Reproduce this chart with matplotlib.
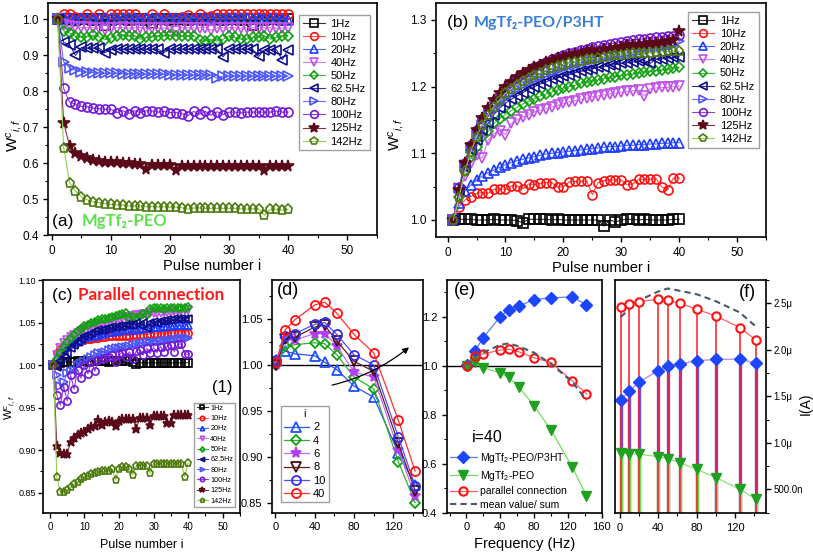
import matplotlib
matplotlib.use("Agg")
import matplotlib.pyplot as plt
from matplotlib.ticker import MultipleLocator, FuncFormatter

plt.rcParams['font.family'] = ['Liberation Sans', 'DejaVu Sans']
plt.rcParams['mathtext.fontset'] = 'custom'
plt.rcParams['mathtext.rm'] = 'Liberation Sans'
plt.rcParams['mathtext.it'] = 'Liberation Sans:italic'

# ---------------- data ----------------
pulses = list(range(1, 41))
freq_labels = ['1Hz', '10Hz', '20Hz', '40Hz', '50Hz', '62.5Hz', '80Hz', '100Hz', '125Hz', '142Hz']
freqs = [1, 10, 20, 40, 50, 62.5, 80, 100, 125, 142]

# (a) MgTf2-PEO
a_1 = [1.000, 1.000, 1.000, 0.999, 1.000, 1.000, 0.999, 1.000, 0.985, 0.999, 1.000, 1.000, 0.999, 1.000, 1.000, 0.999, 0.990, 1.000, 1.000, 0.999,
       1.000, 1.000, 0.999, 1.000, 1.000, 0.999, 1.000, 1.000, 0.999, 1.000, 1.000, 0.999, 1.000, 0.985, 1.000, 0.999, 1.000, 1.000, 0.999, 1.000]
a_10 = [1.000, 1.015, 1.015, 1.008, 1.005, 1.015, 1.005, 1.015, 1.003, 1.015, 1.015, 1.015, 1.015, 1.015, 1.005, 1.003, 1.015, 1.003, 1.015, 1.003,
        1.005, 1.008, 1.013, 1.005, 1.015, 1.008, 1.010, 1.015, 1.015, 1.015, 1.015, 1.015, 1.015, 1.015, 1.015, 1.015, 1.015, 1.015, 1.015, 1.015]
a_20 = [1.000, 1.003, 1.003, 1.002, 1.003, 1.003, 1.002, 1.003, 1.003, 1.003, 1.002, 1.003, 1.003, 1.003, 1.002, 1.003, 1.003, 1.003, 1.002, 1.003,
        1.003, 1.003, 1.003, 1.002, 1.003, 1.003, 1.003, 1.003, 1.002, 1.003, 1.003, 1.003, 1.003, 1.002, 1.003, 1.000, 1.003, 1.003, 1.002, 0.998]
a_40 = [1.000, 0.985, 0.982, 0.980, 0.978, 0.978, 0.977, 0.977, 0.972, 0.977, 0.977, 0.978, 0.976, 0.977, 0.977, 0.977, 0.975, 0.977, 0.976, 0.977,
        0.968, 0.977, 0.977, 0.976, 0.977, 0.977, 0.970, 0.977, 0.977, 0.977, 0.977, 0.976, 0.977, 0.977, 0.977, 0.977, 0.977, 0.976, 0.977, 0.977]
a_50 = [1.000, 0.968, 0.962, 0.953, 0.950, 0.952, 0.957, 0.952, 0.944, 0.948, 0.955, 0.958, 0.953, 0.955, 0.945, 0.950, 0.952, 0.955, 0.955, 0.957,
        0.955, 0.955, 0.953, 0.955, 0.942, 0.940, 0.945, 0.940, 0.945, 0.955, 0.950, 0.945, 0.945, 0.950, 0.952, 0.955, 0.945, 0.950, 0.955, 0.955]
a_62 = [1.000, 0.936, 0.930, 0.900, 0.922, 0.920, 0.920, 0.920, 0.908, 0.916, 0.917, 0.917, 0.917, 0.917, 0.917, 0.917, 0.917, 0.917, 0.908, 0.917,
        0.917, 0.917, 0.917, 0.917, 0.917, 0.917, 0.917, 0.917, 0.896, 0.917, 0.917, 0.917, 0.917, 0.917, 0.897, 0.916, 0.916, 0.916, 0.888, 0.916]
a_80 = [1.000, 0.882, 0.865, 0.858, 0.855, 0.853, 0.852, 0.851, 0.850, 0.850, 0.850, 0.849, 0.849, 0.849, 0.848, 0.848, 0.848, 0.848, 0.848, 0.845,
        0.846, 0.846, 0.845, 0.845, 0.845, 0.845, 0.845, 0.836, 0.842, 0.842, 0.842, 0.842, 0.842, 0.842, 0.842, 0.842, 0.842, 0.842, 0.842, 0.842]
a_100 = [1.000, 0.808, 0.770, 0.764, 0.758, 0.757, 0.753, 0.752, 0.750, 0.750, 0.741, 0.746, 0.738, 0.746, 0.741, 0.746, 0.745, 0.742, 0.744, 0.741,
         0.741, 0.738, 0.732, 0.744, 0.736, 0.744, 0.733, 0.743, 0.735, 0.742, 0.742, 0.740, 0.742, 0.742, 0.742, 0.742, 0.742, 0.745, 0.742, 0.742]
a_125 = [1.000, 0.713, 0.648, 0.627, 0.620, 0.614, 0.608, 0.606, 0.604, 0.603, 0.602, 0.600, 0.600, 0.598, 0.598, 0.585, 0.595, 0.595, 0.595, 0.595,
         0.582, 0.592, 0.592, 0.592, 0.592, 0.592, 0.592, 0.592, 0.592, 0.592, 0.592, 0.592, 0.592, 0.592, 0.592, 0.582, 0.591, 0.591, 0.591, 0.591]
a_142 = [1.000, 0.643, 0.546, 0.522, 0.507, 0.498, 0.493, 0.490, 0.487, 0.485, 0.484, 0.483, 0.481, 0.480, 0.480, 0.479, 0.479, 0.478, 0.478, 0.477,
         0.477, 0.476, 0.472, 0.475, 0.475, 0.474, 0.474, 0.474, 0.474, 0.474, 0.474, 0.473, 0.472, 0.473, 0.473, 0.455, 0.471, 0.471, 0.470, 0.471]

# (b) MgTf2-PEO/P3HT
b_1 = [1.000, 1.001, 1.001, 1.001, 1.000, 1.000, 1.000, 1.001, 1.000, 1.000, 1.000, 0.999, 0.996, 1.001, 1.001, 1.001, 1.001, 1.000, 1.001, 1.000,
       1.000, 1.000, 1.000, 1.000, 1.000, 1.000, 0.991, 1.000, 0.997, 1.000, 1.001, 1.001, 1.000, 1.001, 1.000, 1.000, 1.000, 1.000, 1.001, 1.001]
b_10 = [1.000, 1.020, 1.030, 1.035, 1.040, 1.041, 1.040, 1.046, 1.047, 1.046, 1.051, 1.051, 1.047, 1.054, 1.053, 1.055, 1.056, 1.056, 1.049, 1.050,
        1.057, 1.058, 1.058, 1.059, 1.038, 1.056, 1.059, 1.060, 1.060, 1.060, 1.053, 1.054, 1.061, 1.061, 1.061, 1.062, 1.050, 1.045, 1.063, 1.063]
b_20 = [1.000, 1.025, 1.044, 1.052, 1.060, 1.066, 1.071, 1.075, 1.079, 1.083, 1.086, 1.089, 1.091, 1.093, 1.095, 1.097, 1.099, 1.100, 1.101, 1.102,
        1.103, 1.104, 1.105, 1.106, 1.107, 1.108, 1.109, 1.110, 1.110, 1.111, 1.112, 1.112, 1.113, 1.113, 1.114, 1.114, 1.115, 1.115, 1.116, 1.116]
b_40 = [1.000, 1.040, 1.066, 1.085, 1.098, 1.093, 1.120, 1.130, 1.134, 1.128, 1.145, 1.150, 1.155, 1.158, 1.162, 1.165, 1.167, 1.170, 1.172, 1.175,
        1.177, 1.179, 1.181, 1.183, 1.185, 1.186, 1.188, 1.189, 1.190, 1.192, 1.193, 1.194, 1.195, 1.186, 1.197, 1.198, 1.199, 1.199, 1.200, 1.201]
b_50 = [1.000, 1.035, 1.074, 1.094, 1.110, 1.124, 1.133, 1.145, 1.152, 1.158, 1.164, 1.169, 1.174, 1.178, 1.182, 1.186, 1.189, 1.192, 1.195, 1.198,
        1.200, 1.202, 1.205, 1.207, 1.209, 1.210, 1.212, 1.214, 1.215, 1.217, 1.218, 1.219, 1.221, 1.222, 1.223, 1.224, 1.225, 1.226, 1.228, 1.229]
b_62 = [1.000, 1.045, 1.080, 1.105, 1.120, 1.135, 1.145, 1.158, 1.168, 1.175, 1.181, 1.186, 1.191, 1.196, 1.200, 1.204, 1.207, 1.211, 1.213, 1.216,
        1.218, 1.221, 1.223, 1.225, 1.227, 1.229, 1.230, 1.232, 1.233, 1.235, 1.236, 1.237, 1.238, 1.239, 1.235, 1.241, 1.242, 1.243, 1.244, 1.245]
b_80 = [1.000, 1.048, 1.083, 1.108, 1.128, 1.142, 1.155, 1.165, 1.175, 1.183, 1.190, 1.196, 1.202, 1.207, 1.211, 1.215, 1.219, 1.222, 1.225, 1.228,
        1.231, 1.233, 1.236, 1.238, 1.240, 1.242, 1.244, 1.246, 1.248, 1.249, 1.251, 1.252, 1.254, 1.255, 1.257, 1.258, 1.259, 1.261, 1.262, 1.268]
b_100 = [1.000, 1.050, 1.086, 1.113, 1.135, 1.152, 1.166, 1.178, 1.189, 1.198, 1.206, 1.213, 1.219, 1.224, 1.229, 1.233, 1.237, 1.241, 1.244, 1.247,
         1.250, 1.252, 1.255, 1.257, 1.259, 1.261, 1.263, 1.264, 1.266, 1.267, 1.268, 1.270, 1.271, 1.272, 1.273, 1.274, 1.275, 1.276, 1.276, 1.277]
b_125 = [1.000, 1.045, 1.085, 1.112, 1.135, 1.153, 1.168, 1.180, 1.190, 1.200, 1.207, 1.214, 1.220, 1.225, 1.229, 1.233, 1.237, 1.240, 1.243, 1.245,
         1.247, 1.249, 1.251, 1.253, 1.255, 1.250, 1.256, 1.257, 1.258, 1.259, 1.262, 1.263, 1.263, 1.264, 1.265, 1.266, 1.267, 1.268, 1.270, 1.283]
b_142 = [1.000, 1.035, 1.073, 1.102, 1.125, 1.143, 1.158, 1.170, 1.180, 1.190, 1.197, 1.203, 1.208, 1.213, 1.217, 1.221, 1.225, 1.228, 1.231, 1.233,
         1.235, 1.237, 1.239, 1.241, 1.242, 1.243, 1.245, 1.246, 1.247, 1.248, 1.249, 1.250, 1.250, 1.251, 1.251, 1.252, 1.252, 1.253, 1.253, 1.253]

# (c) parallel connection
c_1 = [1.000, 1.000, 1.003, 1.004, 1.004, 1.004, 1.004, 1.005, 1.005, 1.005, 1.004, 1.005, 1.005, 1.005, 1.005, 1.005, 1.004, 1.005, 1.005, 1.005,
       1.005, 1.005, 1.008, 1.004, 1.002, 1.003, 1.003, 1.003, 1.003, 1.003, 1.003, 1.003, 1.003, 1.003, 1.003, 1.003, 1.003, 1.003, 1.003, 1.003]
c_10 = [1.000, 1.015, 1.019, 1.022, 1.024, 1.026, 1.027, 1.028, 1.029, 1.030, 1.031, 1.031, 1.032, 1.032, 1.033, 1.033, 1.034, 1.034, 1.034, 1.035,
        1.035, 1.035, 1.035, 1.036, 1.036, 1.036, 1.036, 1.036, 1.037, 1.037, 1.037, 1.037, 1.037, 1.037, 1.038, 1.038, 1.038, 1.038, 1.038, 1.038]
c_20 = [1.000, 1.010, 1.015, 1.019, 1.022, 1.025, 1.027, 1.029, 1.030, 1.032, 1.033, 1.034, 1.035, 1.036, 1.037, 1.038, 1.039, 1.039, 1.040, 1.040,
        1.041, 1.041, 1.042, 1.042, 1.043, 1.043, 1.044, 1.044, 1.044, 1.045, 1.045, 1.045, 1.046, 1.046, 1.046, 1.047, 1.047, 1.047, 1.048, 1.048]
c_40 = [1.000, 1.012, 1.020, 1.026, 1.030, 1.033, 1.036, 1.038, 1.040, 1.043, 1.045, 1.046, 1.048, 1.049, 1.050, 1.051, 1.052, 1.053, 1.054, 1.055,
        1.056, 1.057, 1.057, 1.058, 1.059, 1.059, 1.060, 1.060, 1.061, 1.062, 1.062, 1.062, 1.063, 1.063, 1.063, 1.064, 1.064, 1.064, 1.065, 1.065]
c_50 = [1.000, 1.008, 1.015, 1.021, 1.027, 1.032, 1.036, 1.040, 1.043, 1.046, 1.048, 1.050, 1.051, 1.053, 1.054, 1.055, 1.056, 1.057, 1.058, 1.059,
        1.060, 1.061, 1.056, 1.057, 1.056, 1.058, 1.060, 1.059, 1.066, 1.068, 1.068, 1.067, 1.066, 1.068, 1.068, 1.068, 1.068, 1.068, 1.068, 1.069]
c_62 = [1.000, 0.998, 1.005, 1.010, 1.015, 1.020, 1.024, 1.028, 1.031, 1.034, 1.036, 1.038, 1.040, 1.041, 1.042, 1.043, 1.044, 1.045, 1.045, 1.046,
        1.046, 1.047, 1.048, 1.048, 1.050, 1.048, 1.050, 1.044, 1.050, 1.051, 1.050, 1.052, 1.052, 1.053, 1.053, 1.054, 1.054, 1.055, 1.055, 1.055]
c_80 = [1.000, 0.988, 0.976, 0.980, 0.991, 0.993, 0.995, 1.000, 1.003, 1.005, 1.007, 1.010, 1.012, 1.014, 1.015, 1.016, 1.018, 1.019, 1.020, 1.020,
        1.021, 1.022, 1.023, 1.024, 1.025, 1.025, 1.026, 1.027, 1.027, 1.028, 1.028, 1.029, 1.029, 1.030, 1.030, 1.031, 1.031, 1.032, 1.032, 1.032]
c_100 = [1.000, 0.965, 0.953, 0.975, 0.958, 0.988, 0.972, 0.995, 0.985, 1.000, 0.990, 1.004, 0.993, 1.006, 1.007, 1.009, 1.010, 1.012, 1.004, 1.013,
         1.015, 1.010, 1.016, 1.008, 1.017, 1.018, 1.012, 1.020, 1.014, 1.021, 1.015, 1.022, 1.016, 1.023, 1.024, 1.016, 1.025, 1.025, 1.013, 1.013]
c_125 = [1.000, 0.905, 0.897, 0.896, 0.896, 0.910, 0.915, 0.918, 0.920, 0.922, 0.925, 0.927, 0.929, 0.936, 0.930, 0.933, 0.935, 0.933, 0.929, 0.935,
         0.937, 0.937, 0.937, 0.937, 0.925, 0.938, 0.938, 0.938, 0.930, 0.940, 0.940, 0.940, 0.940, 0.932, 0.932, 0.941, 0.941, 0.941, 0.941, 0.941]
c_142 = [1.000, 0.868, 0.851, 0.851, 0.853, 0.857, 0.860, 0.863, 0.866, 0.868, 0.870, 0.872, 0.873, 0.874, 0.875, 0.875, 0.876, 0.878, 0.865, 0.878,
         0.880, 0.880, 0.878, 0.871, 0.882, 0.882, 0.882, 0.882, 0.873, 0.884, 0.884, 0.884, 0.884, 0.884, 0.884, 0.884, 0.884, 0.884, 0.869, 0.885]

# (d) parallel connection vs frequency, for pulse i
d_labels = ['2', '4', '6', '8', '10', '40']
d_2 = [1.005, 1.015, 1.012, 1.010, 1.003, 0.995, 0.977, 0.965, 0.905, 0.870]
d_4 = [1.000, 1.020, 1.022, 1.024, 1.023, 1.011, 0.987, 0.974, 0.895, 0.851]
d_6 = [1.000, 1.028, 1.027, 1.034, 1.034, 1.021, 0.992, 0.987, 0.908, 0.858]
d_8 = [1.000, 1.028, 1.030, 1.041, 1.043, 1.026, 1.004, 0.993, 0.915, 0.864]
d_10 = [1.005, 1.031, 1.034, 1.044, 1.046, 1.033, 1.011, 1.000, 0.922, 0.869]
d_40 = [1.003, 1.038, 1.049, 1.065, 1.068, 1.056, 1.033, 1.013, 0.940, 0.885]

# (e) normalised weight at i=40
e_p3ht = [1.005, 1.061, 1.116, 1.201, 1.230, 1.245, 1.271, 1.278, 1.282, 1.250]
e_peo = [1.000, 1.014, 0.993, 0.971, 0.953, 0.912, 0.837, 0.738, 0.588, 0.469]
e_par = [1.000, 1.039, 1.049, 1.065, 1.068, 1.057, 1.033, 1.014, 0.940, 0.886]
e_mean = [1.002, 1.038, 1.055, 1.086, 1.092, 1.079, 1.054, 1.008, 0.935, 0.860]

# (f) current, in microamps
f_p3ht = [1.465, 1.554, 1.654, 1.775, 1.829, 1.847, 1.882, 1.896, 1.900, 1.853]
f_peo = [0.887, 0.884, 0.877, 0.851, 0.830, 0.787, 0.715, 0.626, 0.501, 0.394]
f_par = [2.464, 2.489, 2.518, 2.543, 2.532, 2.500, 2.436, 2.364, 2.239, 2.104]
f_sum = [2.352, 2.438, 2.531, 2.626, 2.659, 2.634, 2.597, 2.522, 2.401, 2.247]

# ---------------- styles ----------------
colors = ['black', '#ff1010', '#1e3cff', '#c050e8', '#10a010', '#0c0c8c',
          '#4b55f5', '#7418d8', '#5a0a18', '#4e7a10']
line_colors = ['#333333', '#ff5050', '#4a66ff', '#d080f0', '#40c040', '#3030a0',
               '#7070ff', '#9040e0', '#803040', '#90d050']
markers = ['s', 'o', '^', 'v', 'D', '<', '>', 'o', '*', 'p']
filled = [False] * 8 + [True, False]

W = 813.0
H = 553.0


def box(l, t, r, b):
    return [l / W, 1 - b / H, (r - l) / W, (b - t) / H]


fig = plt.figure(figsize=(8.13, 5.53), dpi=100)


def style(ax, size=8):
    for s in ax.spines.values():
        s.set_linewidth(1.2)
    ax.tick_params(direction='out', labelsize=size, width=1, length=3.5)
    ax.tick_params(which='minor', direction='out', width=0.8, length=2)


def pulse_panel(ax, series, ms, lw):
    for k, ys in enumerate(series):
        fc = colors[k] if filled[k] else 'none'
        ax.plot(pulses, ys, color=line_colors[k], lw=lw, marker=markers[k],
                ms=ms * (1.3 if markers[k] == '*' else (0.8 if markers[k] == 'D' else 1)),
                mfc=fc, mec=colors[k], mew=1.2, label=freq_labels[k])


ylab = r'W$^{c}$$_{i,f}$'
bold_font = ['Lato', 'DejaVu Sans']
big_leg = dict(fontsize=8, frameon=True, edgecolor='#888888', fancybox=False,
               handlelength=2.0, handletextpad=0.5, labelspacing=0.28, borderpad=0.35,
               markerscale=0.85)

# ---- (a) ----
ax = fig.add_axes(box(48.3, 3.3, 376.7, 235))
pulse_panel(ax, [a_1, a_10, a_20, a_40, a_50, a_62, a_80, a_100, a_125, a_142], 6.5, 0.8)
ax.set_xlim(-0.6, 55)
ax.set_ylim(0.4, 1.045)
ax.xaxis.set_major_locator(MultipleLocator(10))
ax.xaxis.set_minor_locator(MultipleLocator(5))
ax.yaxis.set_major_locator(MultipleLocator(0.1))
ax.yaxis.set_minor_locator(MultipleLocator(0.05))
ax.yaxis.set_major_formatter(FuncFormatter(lambda v, p: f'{v:.1f}'))
style(ax, 8.5)
ax.set_xlabel('Pulse number i', fontsize=10.5, labelpad=2)
ax.set_ylabel(ylab, fontsize=11)
ax.yaxis.set_label_coords(-0.075, 0.43)
ax.legend(loc='upper right', bbox_to_anchor=(0.995, 0.975), **big_leg)
ax.text(0.012, 0.06, '(a) ', transform=ax.transAxes, fontsize=12.5, va='center', ha='left')
ax.text(0.1, 0.06, 'MgTf₂-PEO', transform=ax.transAxes, fontsize=12, va='center',
        ha='left', color='#5de050', fontweight='bold', family=bold_font)

# ---- (b) ----
ax = fig.add_axes(box(436, 3, 766, 237))
pulse_panel(ax, [b_1, b_10, b_20, b_40, b_50, b_62, b_80, b_100, b_125, b_142], 6.5, 0.8)
ax.set_xlim(-2, 55)
ax.set_ylim(0.9745, 1.3255)
ax.xaxis.set_major_locator(MultipleLocator(10))
ax.xaxis.set_minor_locator(MultipleLocator(5))
ax.yaxis.set_major_locator(MultipleLocator(0.1))
ax.yaxis.set_minor_locator(MultipleLocator(0.05))
ax.yaxis.set_major_formatter(FuncFormatter(lambda v, p: f'{v:.1f}'))
style(ax, 8.5)
ax.set_xlabel('Pulse number i', fontsize=10.5, labelpad=2)
ax.set_ylabel(ylab, fontsize=11)
ax.yaxis.set_label_coords(-0.09, 0.44)
ax.legend(loc='upper right', bbox_to_anchor=(0.995, 0.985), **big_leg)
ax.text(0.033, 0.915, '(b) ', transform=ax.transAxes, fontsize=12.5, va='center', ha='left')
ax.text(0.115, 0.915, 'MgTf₂-PEO/P3HT', transform=ax.transAxes, fontsize=11.5, va='center',
        ha='left', color='#3a7ed6', fontweight='bold', family=bold_font)

# ---- (c) ----
ax = fig.add_axes(box(43, 280, 240, 512.7))
pulse_panel(ax, [c_1, c_10, c_20, c_40, c_50, c_62, c_80, c_100, c_125, c_142], 5.2, 0.8)
ax.set_xlim(-2, 55)
ax.set_ylim(0.8265, 1.1004)
ax.xaxis.set_major_locator(MultipleLocator(10))
ax.xaxis.set_minor_locator(MultipleLocator(5))
ax.yaxis.set_major_locator(MultipleLocator(0.05))
ax.yaxis.set_minor_locator(MultipleLocator(0.025))
ax.yaxis.set_major_formatter(FuncFormatter(lambda v, p: f'{v:.2f}'))
style(ax, 6.5)
ax.tick_params(axis='x', labelsize=7)
ax.tick_params(axis='y', pad=1.5)
ax.set_xlabel('Pulse number i', fontsize=9, labelpad=5)
ax.set_ylabel(ylab, fontsize=8)
ax.yaxis.set_label_coords(-0.13, 0.45)
ax.legend(loc='lower right', bbox_to_anchor=(0.995, 0.01), fontsize=5.2, frameon=True,
          edgecolor='#888888', fancybox=False, handlelength=1.6, handletextpad=0.3,
          labelspacing=0.45, borderpad=0.3, markerscale=0.6)
ax.text(0.046, 0.935, '(c) ', transform=ax.transAxes, fontsize=12.5, va='center', ha='left')
ax.text(0.18, 0.935, 'Parallel connection', transform=ax.transAxes, fontsize=12.3, va='center',
        ha='left', color='#ff1a1a', fontweight='bold', family=bold_font)
ax.text(0.86, 0.54, '(1)', transform=ax.transAxes, fontsize=12, va='center', ha='left')

# ---- (d) ----
ax = fig.add_axes(box(272.3, 280, 423, 512.7))
d_series = [d_2, d_4, d_6, d_8, d_10, d_40]
d_colors = ['#1e50ff', '#10a010', '#b040f0', '#4a0a10', '#3030f0', '#ff1010']
d_lines = ['#3050ff', '#30b030', '#c070f0', '#602020', '#5050ff', '#ff3030']
d_markers = ['^', 'D', '*', 'v', 'o', 'o']
ax.axhline(1.0, color='black', lw=1)
for k, ys in enumerate(d_series):
    fc = d_colors[k] if d_markers[k] == '*' else 'none'
    ms = 8 if d_markers[k] == '*' else (5.2 if d_markers[k] == 'D' else 6.5)
    ax.plot(freqs, ys, color=d_lines[k], lw=0.9, marker=d_markers[k], ms=ms,
            mfc=fc, mec=d_colors[k], mew=1.3, label=d_labels[k])
ax.annotate('', xy=(138, 1.021), xytext=(55, 0.9775),
            arrowprops=dict(arrowstyle='-|>', color='black', lw=0.9, mutation_scale=9,
                            connectionstyle='arc3,rad=0.12'))
ax.set_xlim(-3, 150)
ax.set_ylim(0.84, 1.092)
ax.xaxis.set_major_locator(MultipleLocator(40))
ax.xaxis.set_minor_locator(MultipleLocator(20))
ax.yaxis.set_major_locator(MultipleLocator(0.05))
ax.yaxis.set_minor_locator(MultipleLocator(0.025))
ax.yaxis.set_major_formatter(FuncFormatter(lambda v, p: f'{v:.2f}'))
style(ax, 8)
ax.legend(loc='lower left', bbox_to_anchor=(0.02, 0.02), title='i', fontsize=8,
          title_fontsize=8, frameon=True, edgecolor='#888888', fancybox=False,
          handlelength=2.2, handletextpad=0.4, labelspacing=0.3, borderpad=0.3)
ax.text(0.03, 0.957, '(d)', transform=ax.transAxes, fontsize=13, va='center', ha='left')

# ---- (e) ----
ax = fig.add_axes(box(447, 280, 601.7, 512.7))
ax.axhline(1.0, color='black', lw=1)
ax.plot(freqs, e_p3ht, color='#6080f0', lw=0.9, marker='D', ms=6, mfc='#1e46ff',
        mec='#1e46ff', label='MgTf$_2$-PEO/P3HT')
ax.plot(freqs, e_peo, color='#70e060', lw=0.9, marker='v', ms=7, mfc='#20a020',
        mec='#20a020', label='MgTf$_2$-PEO')
ax.plot(freqs, e_par, color='#ff6070', lw=0.9, marker='o', ms=6, mfc='none',
        mec='#ff1010', mew=1.5, label='parallel connection')
ax.plot(freqs, e_mean, color='#4a5868', lw=1.5, ls=(0, (3, 2)), label='mean value/ sum')
ax.set_xlim(-23, 160)
ax.set_ylim(0.4, 1.351)
ax.xaxis.set_major_locator(MultipleLocator(40))
ax.xaxis.set_minor_locator(MultipleLocator(20))
ax.yaxis.set_major_locator(MultipleLocator(0.2))
ax.yaxis.set_minor_locator(MultipleLocator(0.1))
ax.yaxis.set_major_formatter(FuncFormatter(lambda v, p: f'{v:.1f}'))
style(ax, 8)
ax.set_xlabel('Frequency (Hz)', fontsize=10.5, labelpad=3)
ax.legend(loc='lower left', bbox_to_anchor=(-0.03, -0.02), fontsize=7.5, frameon=False,
          handlelength=2.6, handletextpad=0.3, labelspacing=0.35, borderpad=0.2)
ax.text(0.16, 0.325, 'i=40', transform=ax.transAxes, fontsize=11.5, va='center', ha='left')
ax.text(0.045, 0.957, '(e)', transform=ax.transAxes, fontsize=13, va='center', ha='left')

# ---- (f) ----
ax = fig.add_axes(box(615, 280, 765.7, 513))
f_bottom = 0.245
ax.vlines(freqs, f_bottom, f_p3ht, color='#5a40e0', lw=2.4, alpha=0.9)
ax.vlines(freqs, f_bottom, f_peo, color='#70e050', lw=2.4)
ax.vlines(freqs, f_bottom, f_par, color='#ff1a2a', lw=1.1)
ax.plot(freqs, f_sum, color='#4a5868', lw=1.5, ls=(0, (3, 2)))
ax.plot(freqs, f_p3ht, color='#c080f0', lw=0.9, marker='D', ms=6, mfc='#1e46ff', mec='#1e46ff')
ax.plot(freqs, f_peo, color='#90e070', lw=0.9, marker='v', ms=7, mfc='#20a020', mec='#20a020')
ax.plot(freqs, f_par, color='#ff6070', lw=0.9, marker='o', ms=6, mfc='white',
        mec='#ff1010', mew=1.5)
ax.set_xlim(-5, 152)
ax.set_ylim(f_bottom, 2.75)
ax.xaxis.set_major_locator(MultipleLocator(40))
ax.xaxis.set_minor_locator(MultipleLocator(20))
ax.yaxis.set_major_locator(MultipleLocator(0.5))
ax.yaxis.set_minor_locator(MultipleLocator(0.25))
ax.yaxis.tick_right()
ax.yaxis.set_major_formatter(FuncFormatter(
    lambda v, p: '500.0n' if abs(v - 0.5) < 1e-6 else f'{v:.1f}μ'))
style(ax, 7)
ax.tick_params(axis='x', labelsize=8)
ax.tick_params(axis='y', pad=2)
ax.text(1.265, 0.47, 'I(A)', transform=ax.transAxes, fontsize=10, rotation=90,
        va='center', ha='center')
ax.text(0.82, 0.948, '(f)', transform=ax.transAxes, fontsize=13, va='center', ha='left')

fig.savefig('out.png', dpi=100)
